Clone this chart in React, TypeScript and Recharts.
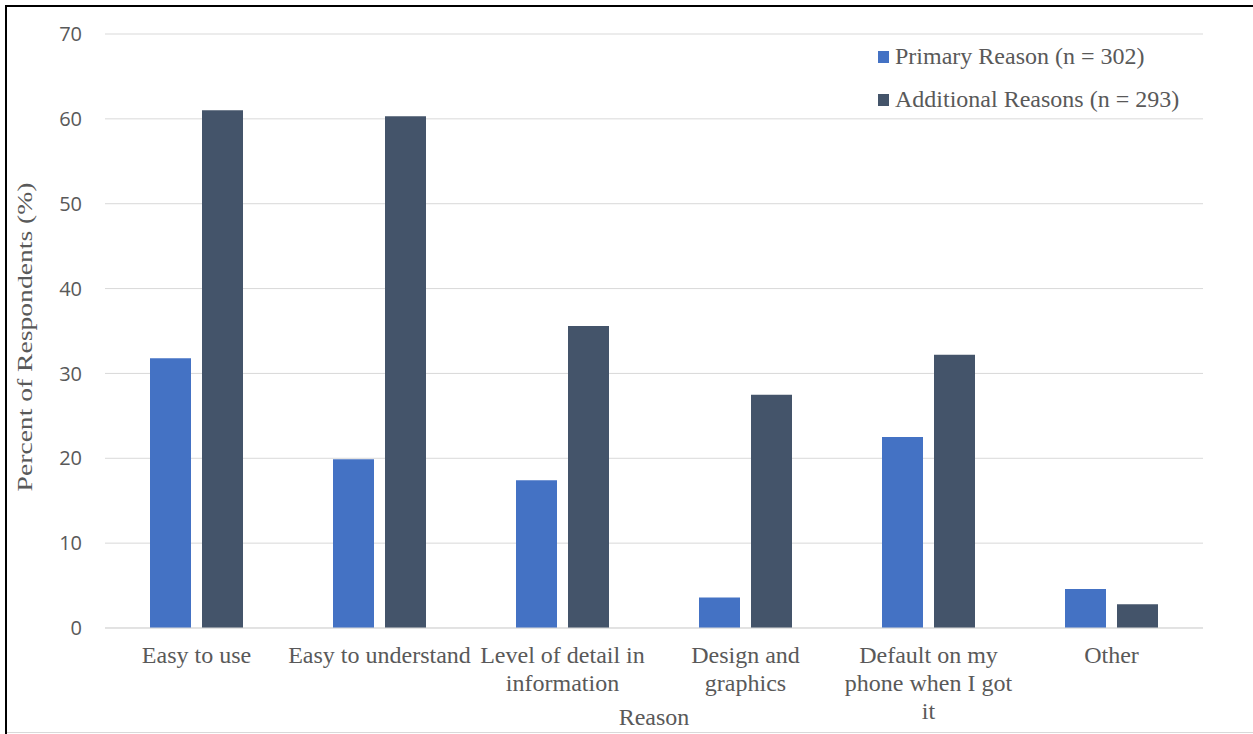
import React from "react";
import { BarChart, Bar, XAxis, YAxis, CartesianGrid, Legend, Label } from "recharts";

const categories = [
  "Easy to use",
  "Easy to understand",
  "Level of detail in information",
  "Design and graphics",
  "Default on my phone when I got it",
  "Other",
];
const tickLines = [
  ["Easy to use"],
  ["Easy to understand"],
  ["Level of detail in", "information"],
  ["Design and", "graphics"],
  ["Default on my", "phone when I got", "it"],
  ["Other"],
];
const primaryValues = [31.8, 19.9, 17.4, 3.6, 22.5, 4.6];
const additionalValues = [61.0, 60.3, 35.6, 27.5, 32.2, 2.8];
const yTicks = [0, 10, 20, 30, 40, 50, 60, 70];
const seriesNames = ["Primary Reason (n = 302)", "Additional Reasons (n = 293)"];
const seriesColors = ["#4472C4", "#44546A"];

const data = categories.map((c, i) => ({
  category: c,
  primary: primaryValues[i],
  additional: additionalValues[i],
}));

const SERIF = "Liberation Serif, Tinos, Times New Roman, Times, DejaVu Serif, serif";
const SANS = "Open Sans, Liberation Sans, sans-serif";
const TEXT = "#595959";

const XTick = (props: any) => {
  const { x, y, payload, index } = props;
  const lines = tickLines[index] ?? [payload.value];
  return (
    <text x={x} y={y + 35} textAnchor="middle" fill={TEXT} style={{ fontFamily: SERIF, fontSize: 24 }}>
      {lines.map((l: string, i: number) => (
        <tspan key={i} x={x} dy={i === 0 ? 0 : 28}>
          {l}
        </tspan>
      ))}
    </text>
  );
};

const LegendContent = () => (
  <div style={{ fontFamily: SERIF, fontSize: 24, color: TEXT }}>
    {seriesNames.map((n, i) => (
      <div key={i} style={{ display: "flex", alignItems: "center", height: 43, whiteSpace: "nowrap" }}>
        <span style={{ display: "inline-block", width: 11, height: 12, background: seriesColors[i], marginRight: 6 }} />
        <span>{n}</span>
      </div>
    ))}
  </div>
);

export default function App() {
  return (
    <div style={{ position: "absolute", left: 0, top: 0, width: 1253, height: 734, background: "#fff", overflow: "hidden" }}>
      <div style={{ position: "absolute", left: 5, top: 5, width: 1300, height: 2, background: "#000" }} />
      <div style={{ position: "absolute", left: 5, top: 5, width: 2, height: 760, background: "#000" }} />
      <div style={{ position: "absolute", left: 7, top: 732, width: 1300, height: 1, background: "#d9d9d9" }} />
      <div style={{ position: "absolute", left: 0, top: 0 }}>
        <BarChart
          width={1253}
          height={734}
          data={data}
          margin={{ top: 34, right: 50, bottom: 0, left: 0 }}
          barCategoryGap={45}
          barGap={11}
        >
          <CartesianGrid vertical={false} stroke="#d9d9d9" strokeWidth={1} />
          <XAxis
            dataKey="category"
            height={106}
            interval={0}
            tickLine={false}
            tickSize={0}
            tickMargin={0}
            axisLine={{ stroke: "#d9d9d9", strokeWidth: 1 }}
            tick={<XTick />}
          >
            <Label
              content={(p: any) => {
                const vb = p.viewBox || {};
                const cx = (vb.x ?? 105) + (vb.width ?? 1098) / 2;
                const cy = (vb.y ?? 628) + 97;
                return (
                  <text x={cx} y={cy} textAnchor="middle" fill={TEXT} style={{ fontFamily: SERIF, fontSize: 24 }}>
                    Reason
                  </text>
                );
              }}
            />
          </XAxis>
          <YAxis
            width={105}
            domain={[0, 70]}
            ticks={yTicks}
            interval={0}
            axisLine={false}
            tickLine={false}
            tickSize={0}
            tickMargin={23}
            tick={{ fill: TEXT, fontFamily: SANS, fontSize: 20 }}
          >
            <Label
              content={(p: any) => {
                const vb = p.viewBox || {};
                const cx = 32;
                const cy = (vb.y ?? 34) + (vb.height ?? 594) / 2 + 6;
                return (
                  <text
                    x={0}
                    y={0}
                    transform={`translate(${cx} ${cy}) rotate(-90) scale(1.38 1)`}
                    textAnchor="middle"
                    fill={TEXT}
                    style={{ fontFamily: SERIF, fontSize: 20 }}
                  >
                    Percent of Respondents (%)
                  </text>
                );
              }}
            />
          </YAxis>
          <Legend
            layout="horizontal"
            verticalAlign="middle"
            align="center"
            wrapperStyle={{ left: 878, top: 35, width: 340 }}
            content={<LegendContent />}
          />
          <Bar dataKey="primary" name={seriesNames[0]} fill={seriesColors[0]} isAnimationActive={false} />
          <Bar dataKey="additional" name={seriesNames[1]} fill={seriesColors[1]} isAnimationActive={false} />
        </BarChart>
      </div>
    </div>
  );
}
